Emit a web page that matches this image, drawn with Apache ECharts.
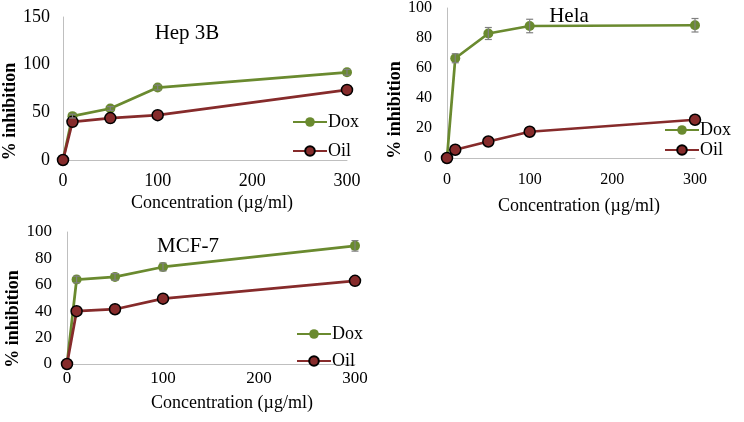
<!DOCTYPE html>
<html>
<head>
<meta charset="utf-8">
<script src="https://cdn.jsdelivr.net/npm/echarts@6/dist/echarts.min.js"></script>
<style>html,body{margin:0;padding:0;background:#fff}#c{width:744px;height:422px}</style>
</head>
<body>
<div id="c"></div>
<script>
// ---- data ----
const concentrations = [0, 10, 50, 100, 300];
const titles = ['Hep 3B', 'Hela', 'MCF-7'];
const seriesNames = ['Dox', 'Oil'];
const hepDox = [0, 46, 54, 76, 92];
const hepOil = [0, 40, 44, 47, 73.5];
const hepDoxErr = [0, 2, 2, 2.5, 3];
const helaDox = [0, 66.5, 83, 88, 88.5];
const helaOil = [0, 5.5, 11, 17.5, 25.5];
const helaDoxErr = [0, 3, 4, 4.5, 4.5];
const mcfDox = [0, 64, 66, 73.5, 89.5];
const mcfOil = [0, 40, 41.5, 49.5, 63];
const mcfDoxErr = [0, 2.5, 2.5, 3, 4];
const yMaxes = [150, 100, 100];
const yIntervals = [50, 20, 20];

// ---- styling / layout ----
const FONT = '"Liberation Serif", "Times New Roman", serif';
const GREEN = '#6A8A2F';
const RED = '#862B2B';
const AXIS = '#BFBFBF';

const grids = [
  {left: 63, top: 17, width: 284, height: 143},
  {left: 447, top: 8, width: 248, height: 150},
  {left: 67, top: 232, width: 288, height: 132}
];
const doxData = [hepDox, helaDox, mcfDox];
const oilData = [hepOil, helaOil, mcfOil];
const errData = [hepDoxErr, helaDoxErr, mcfDoxErr];

const tickFont = [18, 16, 17];
const yLabelMargin = [13, 15, 15];
const xLabelMargin = [12, 14, 6];
const xNameGap = [34, 39, 30];
const yNameGap = [37, 37, 36];
const xNamePad = [[0,0,0,14], [0,0,0,16], [0,0,0,42]];
const yNamePad = [[0,46,0,0], [0,54,0,0], [0,42,0,0]];

const pairs = (xs, ys) => xs.map((x, i) => [x, ys[i]]);

const xAxis = grids.map((g, i) => ({
  type: 'value', gridIndex: i, min: 0, max: 300, interval: 100,
  axisLine: {show: true, lineStyle: {color: AXIS, width: 1}},
  axisTick: {show: false}, splitLine: {show: false},
  axisLabel: {color: '#000', fontFamily: FONT, fontSize: tickFont[i], margin: xLabelMargin[i]},
  name: 'Concentration (µg/ml)', nameLocation: 'middle', nameGap: xNameGap[i],
  nameTextStyle: {color: '#000', fontFamily: FONT, fontSize: 18, padding: xNamePad[i]}
}));
const yAxis = grids.map((g, i) => ({
  type: 'value', gridIndex: i, min: 0, max: yMaxes[i], interval: yIntervals[i],
  axisLine: {show: true, lineStyle: {color: AXIS, width: 1}},
  axisTick: {show: false}, splitLine: {show: false},
  axisLabel: {color: '#000', fontFamily: FONT, fontSize: tickFont[i], margin: yLabelMargin[i]},
  name: '% inhibition', nameLocation: 'middle', nameGap: yNameGap[i],
  nameTextStyle: {color: '#000', fontFamily: FONT, fontSize: 18, fontWeight: 'bold', padding: yNamePad[i]}
}));

const series = [];
grids.forEach((g, i) => {
  series.push({
    name: 'Dox', type: 'line', xAxisIndex: i, yAxisIndex: i,
    data: pairs(concentrations, doxData[i]),
    symbol: 'circle', symbolSize: 10,
    lineStyle: {color: GREEN, width: 2.75},
    itemStyle: {color: GREEN, borderColor: GREEN, borderWidth: 0},
    z: 3
  });
  series.push({
    name: 'Oil', type: 'line', xAxisIndex: i, yAxisIndex: i,
    data: pairs(concentrations, oilData[i]),
    symbol: 'circle', symbolSize: 11,
    lineStyle: {color: RED, width: 2.75},
    itemStyle: {color: RED, borderColor: '#000', borderWidth: 1.5},
    z: 4
  });
  series.push({
    name: 'Dox error', type: 'custom', xAxisIndex: i, yAxisIndex: i,
    data: concentrations.map((x, k) => [x, doxData[i][k], errData[i][k]]).filter(d => d[2] > 0),
    z: 5,
    renderItem: function (params, api) {
      const x = api.value(0), y = api.value(1), e = api.value(2);
      const top = api.coord([x, y + e]);
      const bot = api.coord([x, y - e]);
      const w = 3.5;
      const st = {stroke: '#808080', lineWidth: 1.2};
      return {type: 'group', children: [
        {type: 'line', shape: {x1: top[0], y1: top[1], x2: bot[0], y2: bot[1]}, style: st},
        {type: 'line', shape: {x1: top[0] - w, y1: top[1], x2: top[0] + w, y2: top[1]}, style: st},
        {type: 'line', shape: {x1: bot[0] - w, y1: bot[1], x2: bot[0] + w, y2: bot[1]}, style: st}
      ]};
    }
  });
});

const legendPos = [
  {left: 292, top: 113, itemGap: 11},
  {left: 664, top: 121, itemGap: 2},
  {left: 296, top: 325, itemGap: 9}
];
const legend = legendPos.map(p => ({
  data: seriesNames, orient: 'vertical', left: p.left, top: p.top, itemGap: p.itemGap,
  itemWidth: 34, itemHeight: 12, padding: 0, selectedMode: false,
  textStyle: {color: '#000', fontFamily: FONT, fontSize: 18, lineHeight: 18, padding: [0,0,0,-4]}
}));

const titlePos = [
  {left: 187, top: 23, size: 21},
  {left: 569, top: 6, size: 21},
  {left: 188, top: 236, size: 21}
];
const title = titlePos.map((p, i) => ({
  text: titles[i], left: p.left, top: p.top, textAlign: 'center', padding: 0,
  textStyle: {color: '#000', fontFamily: FONT, fontSize: p.size, fontWeight: 'normal'}
}));

const chart = echarts.init(document.getElementById('c'), null, {renderer: 'canvas'});
chart.setOption({
  animation: false,
  backgroundColor: '#fff',
  title: title,
  legend: legend,
  grid: grids,
  xAxis: xAxis,
  yAxis: yAxis,
  series: series
});
</script>
</body>
</html>
